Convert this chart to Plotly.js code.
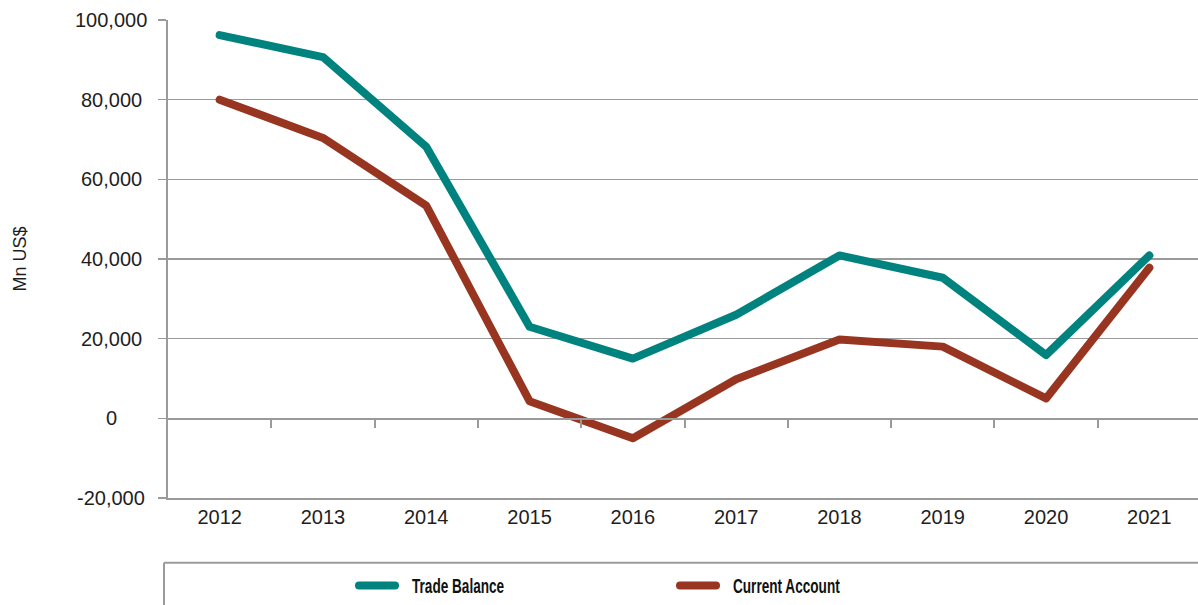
<!DOCTYPE html>
<html><head><meta charset="utf-8">
<script src="https://cdn.plot.ly/plotly-3.0.1.min.js"></script>
<style>html,body{margin:0;padding:0;background:#fff;}#chart{width:1198px;height:605px;}</style>
</head><body><div id="chart"></div>
<script>
const years = [2012, 2013, 2014, 2015, 2016, 2017, 2018, 2019, 2020, 2021];
const tradeBalance = [96200, 90700, 68200, 23000, 15000, 26000, 40900, 35300, 15900, 40900];
const currentAccount = [80000, 70400, 53400, 4300, -5000, 9800, 19800, 18000, 5000, 37800];
const yTicks = [-20000, 0, 20000, 40000, 60000, 80000, 100000];
const seriesNames = ['Trade Balance', 'Current Account'];

const grey = '#9a9a9a';
const W = 1198, H = 605, L = 168, R = 0, T = 20, B = 106;
const plotW = W - L - R, plotH = H - T - B;
const px2x = p => (p - L) / plotW;
const px2y = p => (H - B - p) / plotH;
const boundaries = years.slice(0, -1).map(y => y + 0.5);
const fmt = v => v.toLocaleString('en-US');

const traces = [
  {x: years, y: tradeBalance, name: seriesNames[0], type: 'scatter', mode: 'lines',
   line: {color: '#00837e', width: 8}, hoverinfo: 'x+y'},
  {x: years, y: currentAccount, name: seriesNames[1], type: 'scatter', mode: 'lines',
   line: {color: '#983520', width: 8}, hoverinfo: 'x+y'},
  {x: boundaries, y: boundaries.map(() => 0), xaxis: 'x2', type: 'scatter', mode: 'lines',
   line: {width: 0}, showlegend: false, hoverinfo: 'skip'}
];

const xRange = [years[0] - 0.5, years[0] - 0.5 + plotW / 103.3];

const annotations = yTicks.map(v => ({
  xref: 'paper', yref: 'y', x: px2x(111), y: v, text: fmt(v), showarrow: false,
  xanchor: 'center', yanchor: 'middle',
  font: {family: 'Liberation Sans, Arial, sans-serif', size: 20, color: '#1e1e1e'}
}));
annotations.push({
  xref: 'paper', yref: 'paper', x: px2x(20), y: px2y(260), text: 'Mn US$', textangle: -90,
  showarrow: false, xanchor: 'center', yanchor: 'middle',
  font: {family: 'Liberation Sans, Arial, sans-serif', size: 18, color: '#1e1e1e'}
});

const layout = {
  width: W, height: H,
  margin: {l: L, r: R, t: T, b: B},
  paper_bgcolor: '#fff', plot_bgcolor: '#fff',
  showlegend: true,
  legend: {orientation: 'h', x: px2x(352), xanchor: 'left', y: px2y(587), yanchor: 'middle',
    entrywidth: 276, entrywidthmode: 'pixels', bgcolor: 'rgba(0,0,0,0)',
    font: {family: 'Liberation Sans Narrow, Arial Narrow, Liberation Sans, sans-serif', size: 20, color: '#111', weight: 'bold'}},
  xaxis: {range: xRange, tickvals: years, ticktext: years.map(String), showgrid: false,
    zeroline: false, showline: true, linecolor: grey, linewidth: 2, ticks: '',
    tickfont: {family: 'Liberation Sans, Arial, sans-serif', size: 20, color: '#1e1e1e'}, fixedrange: true},
  xaxis2: {overlaying: 'x', anchor: 'free', position: px2y(420), range: xRange, tickvals: boundaries,
    showticklabels: false, ticks: 'outside', ticklen: 8, tickwidth: 2, tickcolor: grey,
    showline: true, linecolor: grey, linewidth: 2, showgrid: false, zeroline: false, fixedrange: true},
  yaxis: {range: [yTicks[0], yTicks[yTicks.length - 1]], tickvals: yTicks, showticklabels: false,
    showgrid: true, gridcolor: grey, gridwidth: 1.5, zeroline: false,
    showline: true, linecolor: grey, linewidth: 2, ticks: 'outside', ticklen: 8, tickwidth: 1.5, tickcolor: grey,
    fixedrange: true},
  annotations: annotations,
  shapes: [
    {type: 'line', xref: 'paper', yref: 'paper', x0: px2x(164), x1: 1, y0: px2y(564), y1: px2y(564),
     line: {color: grey, width: 2}},
    {type: 'line', xref: 'paper', yref: 'paper', x0: px2x(164), x1: px2x(164), y0: px2y(564), y1: px2y(610),
     line: {color: grey, width: 2}}
  ]
};

Plotly.newPlot('chart', traces, layout, {displayModeBar: false, staticPlot: true}).then(gd => {
  // round caps / joins like the reference
  gd.querySelectorAll('.scatterlayer .js-line').forEach(p => {
    p.style.strokeLinecap = 'round';
    p.style.strokeLinejoin = 'round';
  });
  // longer legend swatches and condensed legend text
  gd.querySelectorAll('.legend .traces').forEach(tr => {
    tr.querySelectorAll('.legendlines path, path.js-line').forEach(p => {
      p.setAttribute('d', 'M7,0h36');
      p.style.strokeLinecap = 'round';
    });
    const t = tr.querySelector('text.legendtext');
    if (t) {
      const x = 60;
      t.setAttribute('x', x);
      t.setAttribute('transform', `translate(${x},0) scale(0.68,1) translate(${-x},0)`);
    }
  });
});
</script>
</body></html>
